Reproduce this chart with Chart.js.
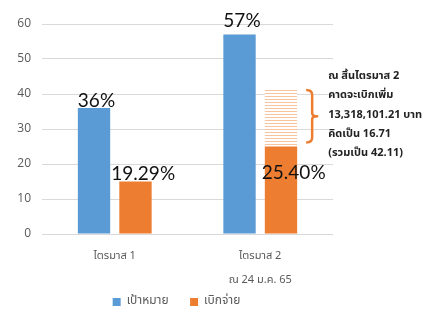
<!DOCTYPE html>
<html><head><meta charset="utf-8">
<script src="https://cdn.jsdelivr.net/npm/chart.js@4"></script>
<style>html,body{margin:0;padding:0;background:#fff}#wrap{width:429px;height:315px;position:relative}</style>
</head><body><div id="wrap"><canvas id="c"></canvas></div>
<script>
const categories = [['ไตรมาส 1'], ['ไตรมาส 2', 'ณ 24 ม.ค. 65']];
const seriesNames = ['เป้าหมาย', 'เบิกจ่าย', 'คาดจะเบิกเพิ่ม'];
const targetValues = [36, 57];
const spentValues = [15, 25];
const projectedExtra = [null, 16.71];
const targetLabels = ['36%', '57%'];
const spentLabels = ['19.29%', '25.40%'];
const noteLines = ['ณ สิ้นไตรมาส 2', 'คาดจะเบิกเพิ่ม', '13,318,101.21 บาท', 'คิดเป็น 16.71', '(รวมเป็น 42.11)'];
const yMin = 0, yMax = 60, yStep = 10;

const BLUE = '#5b9bd5', ORANGE = '#ed7d31';
const THAI = '"Noto Sans Thai", Tahoma, "Open Sans", sans-serif';

function hatch() {
  const p = document.createElement('canvas');
  p.width = 4; p.height = 3;
  const g = p.getContext('2d');
  g.fillStyle = '#fff'; g.fillRect(0, 0, 4, 3);
  g.fillStyle = '#f8c4a0'; g.fillRect(0, 0, 4, 1);
  return document.getElementById('c').getContext('2d').createPattern(p, 'repeat');
}

// label offsets relative to the bar's top-left corner (style only)
const labelOffsets = [[[0, -1], [0, -8]], [[-8, -2], [-3, 32]]];

const overlay = {
  id: 'overlay',
  afterLayout(chart) {
    const lg = chart.legend;
    if (lg) { lg.left += 10; lg.right += 10; }
  },
  afterDatasetsDraw(chart) {
    const ctx = chart.ctx;
    ctx.save();
    ctx.font = '19px Lato, "Open Sans", sans-serif';
    ctx.fillStyle = '#111';
    ctx.textAlign = 'left';
    ctx.textBaseline = 'alphabetic';
    [targetLabels, spentLabels].forEach((labels, di) => {
      const meta = chart.getDatasetMeta(di);
      meta.data.forEach((bar, i) => {
        const o = labelOffsets[di][i];
        ctx.fillText(labels[i], bar.x - bar.width / 2 + o[0], bar.y + o[1]);
      });
    });
    // brace next to projected bar
    const hm = chart.getDatasetMeta(2).data[1];
    const bx = hm.x + hm.width / 2 + 9;
    const top = hm.y + 2, bot = hm.base - 4, mid = (top + bot) / 2;
    ctx.strokeStyle = ORANGE; ctx.lineWidth = 2.5; ctx.lineJoin = 'round';
    ctx.beginPath();
    ctx.moveTo(bx, top);
    ctx.quadraticCurveTo(bx + 6, top, bx + 6, top + 5);
    ctx.lineTo(bx + 6, mid - 3);
    ctx.quadraticCurveTo(bx + 6, mid, bx + 11, mid);
    ctx.quadraticCurveTo(bx + 6, mid, bx + 6, mid + 3);
    ctx.lineTo(bx + 6, bot - 5);
    ctx.quadraticCurveTo(bx + 6, bot, bx, bot);
    ctx.stroke();
    // note text
    ctx.font = 'bold 11px ' + THAI;
    ctx.fillStyle = '#222';
    ctx.textBaseline = 'middle';
    const tx = bx + 22;
    const y0 = hm.y - 11;
    noteLines.forEach((t, i) => ctx.fillText(t, tx, y0 + i * 19.2));
    ctx.restore();
  }
};

new Chart(document.getElementById('c'), {
  type: 'bar',
  data: {
    labels: categories,
    datasets: [
      { label: seriesNames[0], data: targetValues, backgroundColor: BLUE, stack: 'a' },
      { label: seriesNames[1], data: spentValues, backgroundColor: ORANGE, stack: 'b' },
      { label: seriesNames[2], data: projectedExtra, backgroundColor: hatch(), stack: 'b' }
    ]
  },
  options: {
    responsive: true, maintainAspectRatio: false, animation: false,
    datasets: { bar: { categoryPercentage: 0.57, barPercentage: 0.78 } },
    layout: { padding: { left: 0, right: 96, top: 24, bottom: -3 } },
    plugins: {
      tooltip: { enabled: false },
      legend: {
        position: 'bottom',
        labels: {
          filter: it => it.datasetIndex < 2,
          generateLabels: ch => Chart.defaults.plugins.legend.labels.generateLabels(ch)
            .map((l, i) => { if (i === 0) l.text = l.text + '\u00a0\u00a0\u00a0\u00a0'; return l; }),
          boxWidth: 8, boxHeight: 8, padding: 9,
          color: '#595959', font: { size: 12, family: THAI }
        }
      }
    },
    scales: {
      x: {
        stacked: true,
        afterFit: s => { s.height = 53; },
        grid: { display: false, drawTicks: false },
        border: { display: false },
        ticks: { color: '#595959', font: { size: 11, family: THAI, lineHeight: 2.15 }, padding: 11 }
      },
      y: {
        stacked: true, min: yMin, max: yMax,
        afterFit: s => { s.width = 42; },
        grid: { color: '#d9d9d9', drawTicks: false },
        border: { display: false },
        ticks: { stepSize: yStep, color: '#595959', font: { size: 12, family: '"Open Sans", sans-serif' }, padding: 11 }
      }
    }
  },
  plugins: [overlay]
});
</script></body></html>
